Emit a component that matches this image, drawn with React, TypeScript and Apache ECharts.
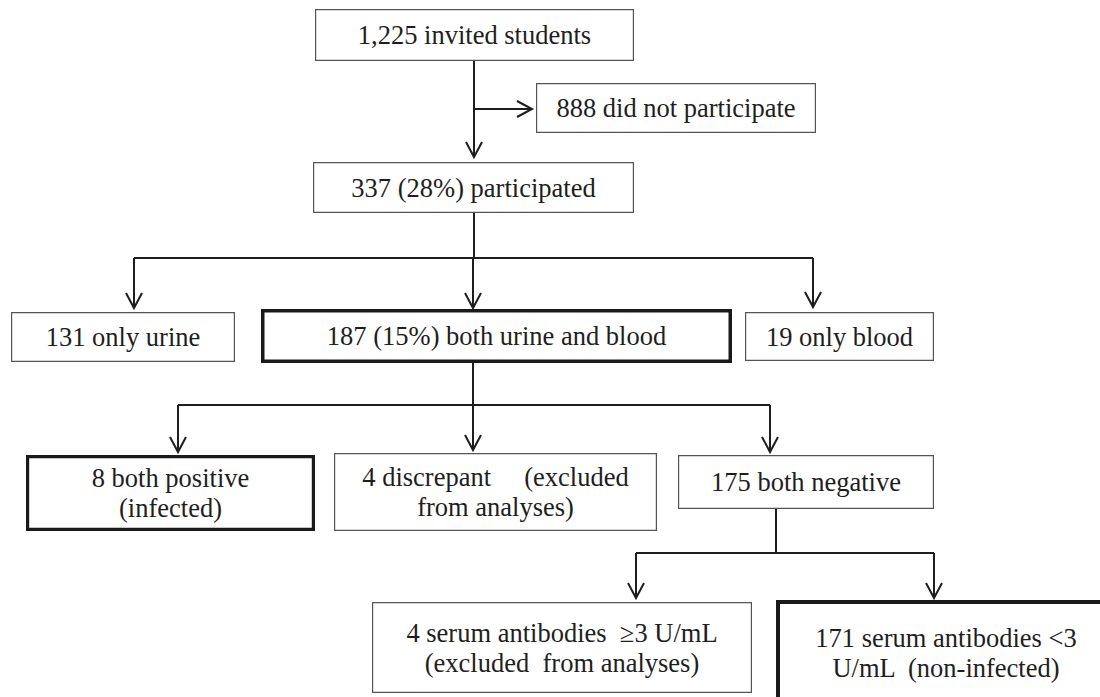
import React, { useEffect, useRef } from "react";
import * as echarts from "echarts";

// ---- Flowchart content ----
const nodeLabels: string[] = [
  "1,225 invited students",
  "888 did not participate",
  "337 (28%) participated",
  "131 only urine",
  "187 (15%) both urine and blood",
  "19 only blood",
  "8 both positive\n(infected)",
  "4 discrepant     (excluded\nfrom analyses)",
  "175 both negative",
  "4 serum antibodies  \u22653 U/mL\n(excluded  from analyses)",
  "171 serum antibodies <3\nU/mL  (non-infected)",
];
const nodeCounts: number[] = [1225, 888, 337, 131, 187, 19, 8, 4, 175, 4, 171];
const nodeEmphasis: boolean[] = [false, false, false, false, true, false, true, false, false, false, true];

// ---- Layout (outer box bounds: left, top, right, bottom) ----
const nodeBoxes: number[][] = [
  [315, 9, 634, 61],
  [536, 83, 816, 133],
  [313, 162, 634, 213],
  [11, 312, 235, 362],
  [261, 309, 732, 363],
  [745, 312, 934, 361],
  [26, 455, 315, 531],
  [334, 453, 657, 531],
  [678, 455, 934, 509],
  [372, 602, 752, 693],
  [776, 600, 1116, 702],
];
const thickWidths: number[] = [0, 0, 0, 0, 3.5, 0, 3.2, 0, 0, 0, 4];

// connectors: [points, hasArrow]
const connectors: [number[][], boolean][] = [
  [[[474, 61], [474, 157]], true],
  [[[474, 109], [532, 109]], true],
  [[[474, 213], [474, 258]], false],
  [[[134, 258], [813, 258]], false],
  [[[134, 258], [134, 308]], true],
  [[[473, 258], [473, 308]], true],
  [[[813, 258], [813, 307]], true],
  [[[473, 363], [473, 405]], false],
  [[[178, 405], [770, 405]], false],
  [[[178, 405], [178, 452]], true],
  [[[473, 405], [473, 450]], true],
  [[[770, 405], [770, 452]], true],
  [[[776, 509], [776, 553]], false],
  [[[636, 553], [934, 553]], false],
  [[[636, 553], [636, 598]], true],
  [[[934, 553], [934, 598]], true],
];

const INK = "#1e1e1e";

export default function App() {
  const ref = useRef<HTMLDivElement>(null);
  useEffect(() => {
    document.body.style.margin = "0";
    if (!ref.current) return;
    const chart = echarts.init(ref.current, null, { renderer: "svg" });
    const elements: any[] = [];

    connectors.forEach(([pts, arrow]) => {
      elements.push({
        type: "polyline",
        silent: true,
        shape: { points: pts },
        style: { stroke: INK, lineWidth: 2, fill: null },
        z: 1,
      });
      if (arrow) {
        const [x0, y0] = pts[pts.length - 2];
        const [x1, y1] = pts[pts.length - 1];
        const len = Math.hypot(x1 - x0, y1 - y0);
        const ux = (x1 - x0) / len;
        const uy = (y1 - y0) / len;
        const L = 15;
        const W = 8;
        elements.push({
          type: "polyline",
          silent: true,
          shape: {
            points: [
              [x1 - ux * L - uy * W, y1 - uy * L + ux * W],
              [x1, y1],
              [x1 - ux * L + uy * W, y1 - uy * L - ux * W],
            ],
          },
          style: { stroke: INK, lineWidth: 2, fill: null },
          z: 1,
        });
      }
    });

    nodeBoxes.forEach((b, i) => {
      const thick = nodeEmphasis[i];
      const lw = thick ? thickWidths[i] : 1.2;
      const [l, t, r, btm] = b;
      elements.push({
        type: "rect",
        silent: true,
        shape: { x: l + lw / 2, y: t + lw / 2, width: r - l - lw, height: btm - t - lw },
        style: { fill: "#ffffff", stroke: thick ? "#1a1a1a" : "#555555", lineWidth: lw },
        z: 2,
      });
      const multi = nodeLabels[i].indexOf("\n") >= 0;
      elements.push({
        type: "text",
        silent: true,
        x: (l + r) / 2,
        y: (t + btm) / 2 + (i === 10 ? 2 : 0),
        style: {
          text: nodeLabels[i],
          fontFamily: "Liberation Serif",
          fontSize: 26.5,
          fill: INK,
          textAlign: "center",
          verticalAlign: "middle",
          lineHeight: multi ? 30 : 27,
        },
        z: 3,
      });
    });

    chart.setOption({
      animation: false,
      backgroundColor: "#ffffff",
      graphic: { elements },
    });
    (chart as any).__counts = nodeCounts;
    return () => chart.dispose();
  }, []);
  return <div ref={ref} style={{ width: 1100, height: 697 }} />;
}
